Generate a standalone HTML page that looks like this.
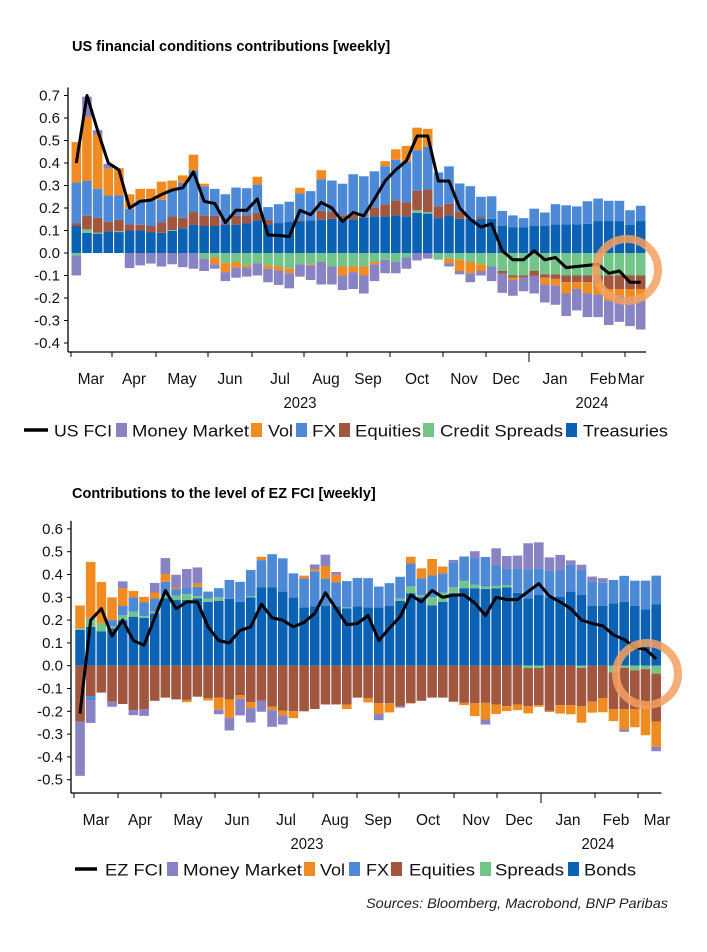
<!DOCTYPE html>
<html><head><meta charset="utf-8"><style>
html,body{margin:0;padding:0;background:#fff;}
svg{display:block;font-family:"Liberation Sans",Arial,sans-serif;}
</style></head><body>
<svg id="svg" width="707" height="952" viewBox="0 0 707 952" xmlns="http://www.w3.org/2000/svg"></svg>
<script>
// ---------- Chart 1 data (US) ----------
const usTreas = [0.12,0.09,0.086,0.096,0.093,0.1,0.1,0.093,0.09,0.098,0.11,0.126,0.12,0.12,0.126,0.126,0.133,0.145,0.127,0.133,0.138,0.14,0.145,0.148,0.152,0.148,0.15,0.157,0.163,0.163,0.167,0.163,0.178,0.175,0.155,0.167,0.152,0.152,0.152,0.152,0.12,0.115,0.115,0.12,0.12,0.127,0.127,0.127,0.13,0.142,0.142,0.142,0.126,0.142];
const usCredit = [-0.01,0.015,0.005,0,0.004,0,0,0,0,0.004,0,0,-0.025,-0.02,-0.045,-0.04,-0.055,-0.045,-0.055,-0.06,-0.07,-0.05,-0.05,-0.04,-0.06,-0.06,-0.06,-0.06,-0.04,-0.03,-0.04,-0.02,0.012,0.007,-0.03,-0.025,-0.03,-0.04,-0.05,-0.06,-0.08,-0.1,-0.1,-0.08,-0.095,-0.095,-0.1,-0.1,-0.1,-0.1,-0.1,-0.1,-0.1,-0.1];
const usEquities = [0.013,0.06,0.065,0.043,0.05,0.027,0.025,0.027,0.047,0.06,0.047,0.056,0.046,0.045,0.005,0.04,0.035,0.034,0.02,0,0,0.005,0,0.04,0.03,0.02,0.02,0.004,0.04,0.053,0.067,0.063,0.087,0.1,0.053,0.052,0.03,0,0.008,0,-0.012,-0.01,-0.01,-0.02,-0.015,-0.02,-0.03,-0.03,-0.03,-0.035,-0.06,-0.06,-0.06,-0.06];
const usFX = [0.18,0.155,0.13,0.117,0.11,0.07,0.11,0.12,0.1,0.12,0.155,0.185,0.13,0.12,0.13,0.125,0.12,0.125,0.057,0.084,0.09,0.12,0.13,0.14,0.14,0.14,0.18,0.18,0.16,0.17,0.18,0.18,0.18,0.19,0.15,0.166,0.127,0.145,0.09,0.1,0.067,0.052,0.04,0.077,0.06,0.09,0.085,0.08,0.1,0.1,0.09,0.09,0.064,0.068];
const usVol = [0.18,0.285,0.24,0.12,0.12,0.064,0.05,0.045,0.08,0.04,0.033,0.07,0.012,-0.03,-0.04,-0.025,-0.01,0.035,-0.015,-0.018,-0.02,0.025,-0.005,0.04,0,-0.04,-0.025,-0.04,-0.01,0.022,0.047,0.07,0.1,0.08,0,-0.02,-0.05,-0.05,-0.03,0,0,-0.01,0,0,-0.03,-0.03,-0.05,-0.03,-0.05,-0.05,-0.05,-0.03,-0.04,-0.05];
const usMM = [-0.09,0.09,0.02,0.02,0,-0.067,-0.055,-0.047,-0.06,-0.05,-0.063,-0.07,-0.055,-0.02,-0.04,-0.045,-0.04,-0.055,-0.06,-0.064,-0.067,-0.055,-0.065,-0.1,-0.08,-0.065,-0.075,-0.08,-0.075,-0.06,-0.05,-0.05,-0.033,-0.025,0,-0.015,-0.015,-0.04,-0.02,-0.065,-0.085,-0.07,-0.06,-0.08,-0.08,-0.085,-0.1,-0.095,-0.105,-0.1,-0.11,-0.116,-0.125,-0.13];
const usFCI = [0.4,0.7,0.545,0.4,0.37,0.2,0.23,0.235,0.26,0.28,0.29,0.36,0.23,0.22,0.135,0.19,0.19,0.24,0.08,0.078,0.073,0.19,0.17,0.225,0.2,0.14,0.18,0.165,0.24,0.32,0.37,0.41,0.52,0.52,0.32,0.32,0.2,0.15,0.115,0.13,0.01,-0.03,-0.03,0.01,-0.03,-0.02,-0.065,-0.06,-0.055,-0.05,-0.09,-0.08,-0.13,-0.13];
const usTicks = [0.7,0.6,0.5,0.4,0.3,0.2,0.1,0.0,-0.1,-0.2,-0.3,-0.4];

// ---------- Chart 2 data (EZ) ----------
const ezBonds = [0.157,0.17,0.15,0.164,0.2,0.215,0.21,0.23,0.296,0.288,0.288,0.296,0.28,0.285,0.293,0.28,0.3,0.343,0.343,0.325,0.3,0.256,0.26,0.262,0.26,0.252,0.26,0.256,0.255,0.262,0.285,0.318,0.3,0.264,0.28,0.318,0.34,0.34,0.337,0.34,0.344,0.32,0.296,0.31,0.3,0.303,0.325,0.31,0.262,0.262,0.274,0.28,0.262,0.247,0.27];
const ezSpreads = [0.007,0.04,0.037,0.01,0.022,0.022,0.007,0.007,0.012,0.02,0.026,0.01,0.015,0.015,0,0,0.005,0,0,0,0,0,0,0,0,0.004,0,0,0,0,0.01,0.03,0.01,0.037,0.04,0.026,0.032,0.015,0.01,0.01,0.01,0,-0.01,-0.01,0,0,0,-0.01,0,0,-0.03,-0.01,-0.02,-0.015,-0.035];
const ezEquities = [-0.246,-0.133,-0.118,-0.158,-0.168,-0.195,-0.19,-0.154,-0.14,-0.148,-0.15,-0.136,-0.143,-0.14,-0.148,-0.13,-0.16,-0.154,-0.18,-0.198,-0.2,-0.2,-0.19,-0.17,-0.17,-0.17,-0.14,-0.143,-0.165,-0.165,-0.177,-0.165,-0.154,-0.14,-0.14,-0.158,-0.163,-0.165,-0.163,-0.17,-0.177,-0.17,-0.167,-0.163,-0.198,-0.173,-0.173,-0.167,-0.158,-0.143,-0.16,-0.18,-0.17,-0.16,-0.21];
const ezFX = [0,-0.018,0,0.026,0.04,0.063,0.06,0.058,0.06,0.028,0.03,0.04,0.03,0.04,0.083,0.088,0.115,0.12,0.146,0.146,0.105,0.127,0.154,0.12,0.105,0.115,0.125,0.128,0.092,0.1,0.095,0.1,0.073,0.095,0.085,0.11,0.107,0.117,0.13,0.092,0.073,0.107,0.124,0.117,0.117,0.117,0.117,0.11,0.107,0.102,0.102,0.114,0.111,0.126,0.125];
const ezVol = [0.1,0.245,0.18,0.1,0.078,0.028,0.025,0.026,0.034,0.007,-0.01,0.015,-0.01,-0.053,-0.08,-0.015,-0.026,0.015,-0.015,-0.02,-0.03,0.012,0.01,0.055,0.034,-0.02,0,-0.018,-0.047,-0.04,0,0.03,0.044,0.072,0.03,0,-0.01,-0.056,-0.073,-0.042,-0.022,-0.025,-0.032,-0.007,-0.005,-0.037,-0.04,-0.073,-0.048,-0.061,-0.053,-0.09,-0.08,-0.13,-0.11];
const ezMM = [-0.237,-0.1,0,-0.022,0.03,-0.022,-0.03,0.042,0.07,0.056,0.08,0.07,0,-0.02,-0.056,-0.073,-0.063,-0.048,-0.073,-0.04,0,0,0.02,0.05,0.012,0,0,0,-0.027,0,-0.007,0,0,0,0,0.01,0,0.03,-0.022,0.073,0.054,0.056,0.117,0.114,0.058,0.066,0.02,0.023,0.022,0.02,0,-0.01,0,0,-0.02];
const ezFCI = [-0.21,0.2,0.25,0.13,0.2,0.11,0.09,0.21,0.33,0.25,0.28,0.28,0.17,0.11,0.1,0.155,0.17,0.27,0.21,0.2,0.17,0.19,0.23,0.32,0.25,0.18,0.185,0.22,0.11,0.165,0.215,0.31,0.28,0.33,0.3,0.31,0.31,0.275,0.22,0.3,0.29,0.29,0.325,0.36,0.305,0.28,0.25,0.2,0.185,0.175,0.135,0.115,0.08,0.072,0.03];
const ezTicks = [0.6,0.5,0.4,0.3,0.2,0.1,0.0,-0.1,-0.2,-0.3,-0.4,-0.5];

const monthLabels = ["Mar","Apr","May","Jun","Jul","Aug","Sep","Oct","Nov","Dec","Jan","Feb","Mar"];

const COLORS = {treas:"#0b62b5", credit:"#72c488", eq:"#a0563f", fx:"#4d89d6", vol:"#f08b22", mm:"#8883c3"};
const NS = "http://www.w3.org/2000/svg";
const svg = document.getElementById('svg');
function mk(tag, attrs, parent){const e=document.createElementNS(NS,tag);for(const k in attrs)e.setAttribute(k,attrs[k]);(parent||svg).appendChild(e);return e;}

function drawChart(cfg){
  const g = mk('g',{});
  
  
  const n = cfg.series[0].vals.length;
  const pitch = (cfg.x1 - cfg.x0) / n;
  const xS = i => cfg.x0 + pitch * (i + 0.5);
  const yS = v => cfg.yZero - v * cfg.yPer;
  const t = mk('text',{x:cfg.titleX,y:cfg.titleY,'font-size':14.5,'font-weight':'bold',fill:'#000'},g);
  t.textContent = cfg.title;
  
  
  for(let i=0;i<n;i++){
    let pos=0, neg=0;
    cfg.series.forEach(s=>{
      const v = s.vals[i];
      if(!v) return;
      let y0,y1;
      if(v>0){y0=pos;pos+=v;y1=pos;}else{y0=neg;neg+=v;y1=neg;}
      const top = Math.min(yS(y0),yS(y1)), h = Math.abs(yS(y1)-yS(y0));
      const r = mk('rect',{x:xS(i)-pitch*0.45,y:top,width:pitch*0.9,height:h,fill:s.color},g);
      
      
    });
  }
  const pts = cfg.line.map((v,i)=>xS(i).toFixed(1)+','+yS(v).toFixed(1)).join(' ');
  const pl = mk('polyline',{points:pts,fill:'none',stroke:'#000','stroke-width':3,'stroke-linejoin':'round'},g);
  
  
  const ya = mk('line',{x1:cfg.axisX,x2:cfg.axisX,y1:yS(cfg.ticks[0])-8,y2:cfg.axisY,stroke:'#000','stroke-width':1.3},g);
  
  
  const xa = mk('line',{x1:cfg.axisX,x2:cfg.x1,y1:cfg.axisY,y2:cfg.axisY,stroke:'#000','stroke-width':1.3},g);
  
  
  cfg.ticks.forEach(v=>{
    mk('line',{x1:cfg.axisX-4,x2:cfg.axisX,y1:yS(v),y2:yS(v),stroke:'#000','stroke-width':1},g);
    const tl = mk('text',{x:cfg.axisX-8,y:yS(v)+5,'font-size':15,'text-anchor':'end',fill:'#111'},g);
    tl.textContent = v.toFixed(1);
    
    
  });
  cfg.monthTicks.forEach((x,k)=>{
    mk('line',{x1:x,x2:x,y1:cfg.axisY,y2:cfg.axisY+(k===10?10:5),stroke:'#000','stroke-width':1},g);
  });
  monthLabels.forEach((m,k)=>{
    const ml = mk('text',{x:cfg.monthX[k],y:cfg.axisY+32,'font-size':15.5,'text-anchor':'middle',fill:'#111'},g);
    ml.textContent = m;
    
    
  });
  cfg.years.forEach(([x,txt])=>{
    const yl = mk('text',{x:x,y:cfg.axisY+56,'font-size':16,'text-anchor':'middle',fill:'#111',textLength:33,lengthAdjust:'spacingAndGlyphs'},g);
    yl.textContent = txt;
    
    
  });
  const ly = cfg.legendY;
  mk('line',{x1:cfg.legend.line[0],x2:cfg.legend.line[1],y1:ly,y2:ly,stroke:'#000','stroke-width':3.5},g);
  cfg.legend.items.forEach(it=>{
    if(it.color){ mk('rect',{x:it.sw,y:ly-7,width:11,height:14,fill:it.color},g); }
    const lt = mk('text',{x:it.tx,y:ly+6.5,'font-size':17,fill:'#111',textLength:it.w,lengthAdjust:'spacingAndGlyphs'},g);
    lt.textContent = it.label;
    
    
  });
  const c = mk('circle',{cx:cfg.circle[0],cy:cfg.circle[1],r:31,fill:'none',stroke:'#f5a060','stroke-opacity':0.85,'stroke-width':8},g);
  
  
}

drawChart({
  name:'us-fci-chart', title:'US financial conditions contributions [weekly]', titleX:72, titleY:51,
  x0:71, x1:646, yZero:253, yPer:225, axisX:68, axisY:352, ticks:usTicks,
  series:[{key:'treasuries',vals:usTreas,color:COLORS.treas},{key:'credit-spreads',vals:usCredit,color:COLORS.credit},{key:'equities',vals:usEquities,color:COLORS.eq},{key:'fx',vals:usFX,color:COLORS.fx},{key:'vol',vals:usVol,color:COLORS.vol},{key:'money-market',vals:usMM,color:COLORS.mm}],
  line:usFCI,
  monthTicks:[71,112,156,208,252,304,347,390,443,486,529,582,625],
  monthX:[91,134,182,230,280,326,368,417,464,506,555,603,631],
  years:[[300,'2023'],[592,'2024']],
  legendY:430,
  legend:{line:[24,48],items:[
    {label:'US FCI',tx:54,w:58},
    {label:'Money Market',sw:116,tx:132,w:117,color:COLORS.mm},
    {label:'Vol',sw:251,tx:268,w:25,color:COLORS.vol},
    {label:'FX',sw:296,tx:312,w:24,color:COLORS.fx},
    {label:'Equities',sw:339,tx:355,w:66,color:COLORS.eq},
    {label:'Credit Spreads',sw:423,tx:440,w:123,color:COLORS.credit},
    {label:'Treasuries',sw:566,tx:583,w:85,color:COLORS.treas}]},
  circle:[627,270]
});

drawChart({
  name:'ez-fci-chart', title:'Contributions to the level of EZ FCI [weekly]', titleX:72, titleY:498,
  x0:74.7, x1:661.5, yZero:665.7, yPer:228, axisX:71, axisY:793, ticks:ezTicks,
  series:[{key:'bonds',vals:ezBonds,color:COLORS.treas},{key:'spreads',vals:ezSpreads,color:COLORS.credit},{key:'equities',vals:ezEquities,color:COLORS.eq},{key:'fx',vals:ezFX,color:COLORS.fx},{key:'vol',vals:ezVol,color:COLORS.vol},{key:'money-market',vals:ezMM,color:COLORS.mm}],
  line:ezFCI,
  monthTicks:[74,118,161,215,259,313,357,399,454,497,541,595,638],
  monthX:[96,140,188,237,286,335,378,428,476,519,568,616,657],
  years:[[307,'2023'],[598,'2024']],
  legendY:869,
  legend:{line:[75,97],items:[
    {label:'EZ FCI',tx:105,w:58},
    {label:'Money Market',sw:167,tx:183,w:119,color:COLORS.mm},
    {label:'Vol',sw:304,tx:320,w:25,color:COLORS.vol},
    {label:'FX',sw:349,tx:366,w:23,color:COLORS.fx},
    {label:'Equities',sw:391,tx:409,w:66,color:COLORS.eq},
    {label:'Spreads',sw:480,tx:495,w:69,color:COLORS.credit},
    {label:'Bonds',sw:568,tx:584,w:52,color:COLORS.treas}]},
  circle:[647,674]
});

const src = mk('text',{x:668,y:908,'font-size':14,'font-style':'italic','text-anchor':'end',fill:'#222',textLength:302,lengthAdjust:'spacingAndGlyphs'});
src.textContent = 'Sources: Bloomberg, Macrobond, BNP Paribas';


</script>
</body></html>
